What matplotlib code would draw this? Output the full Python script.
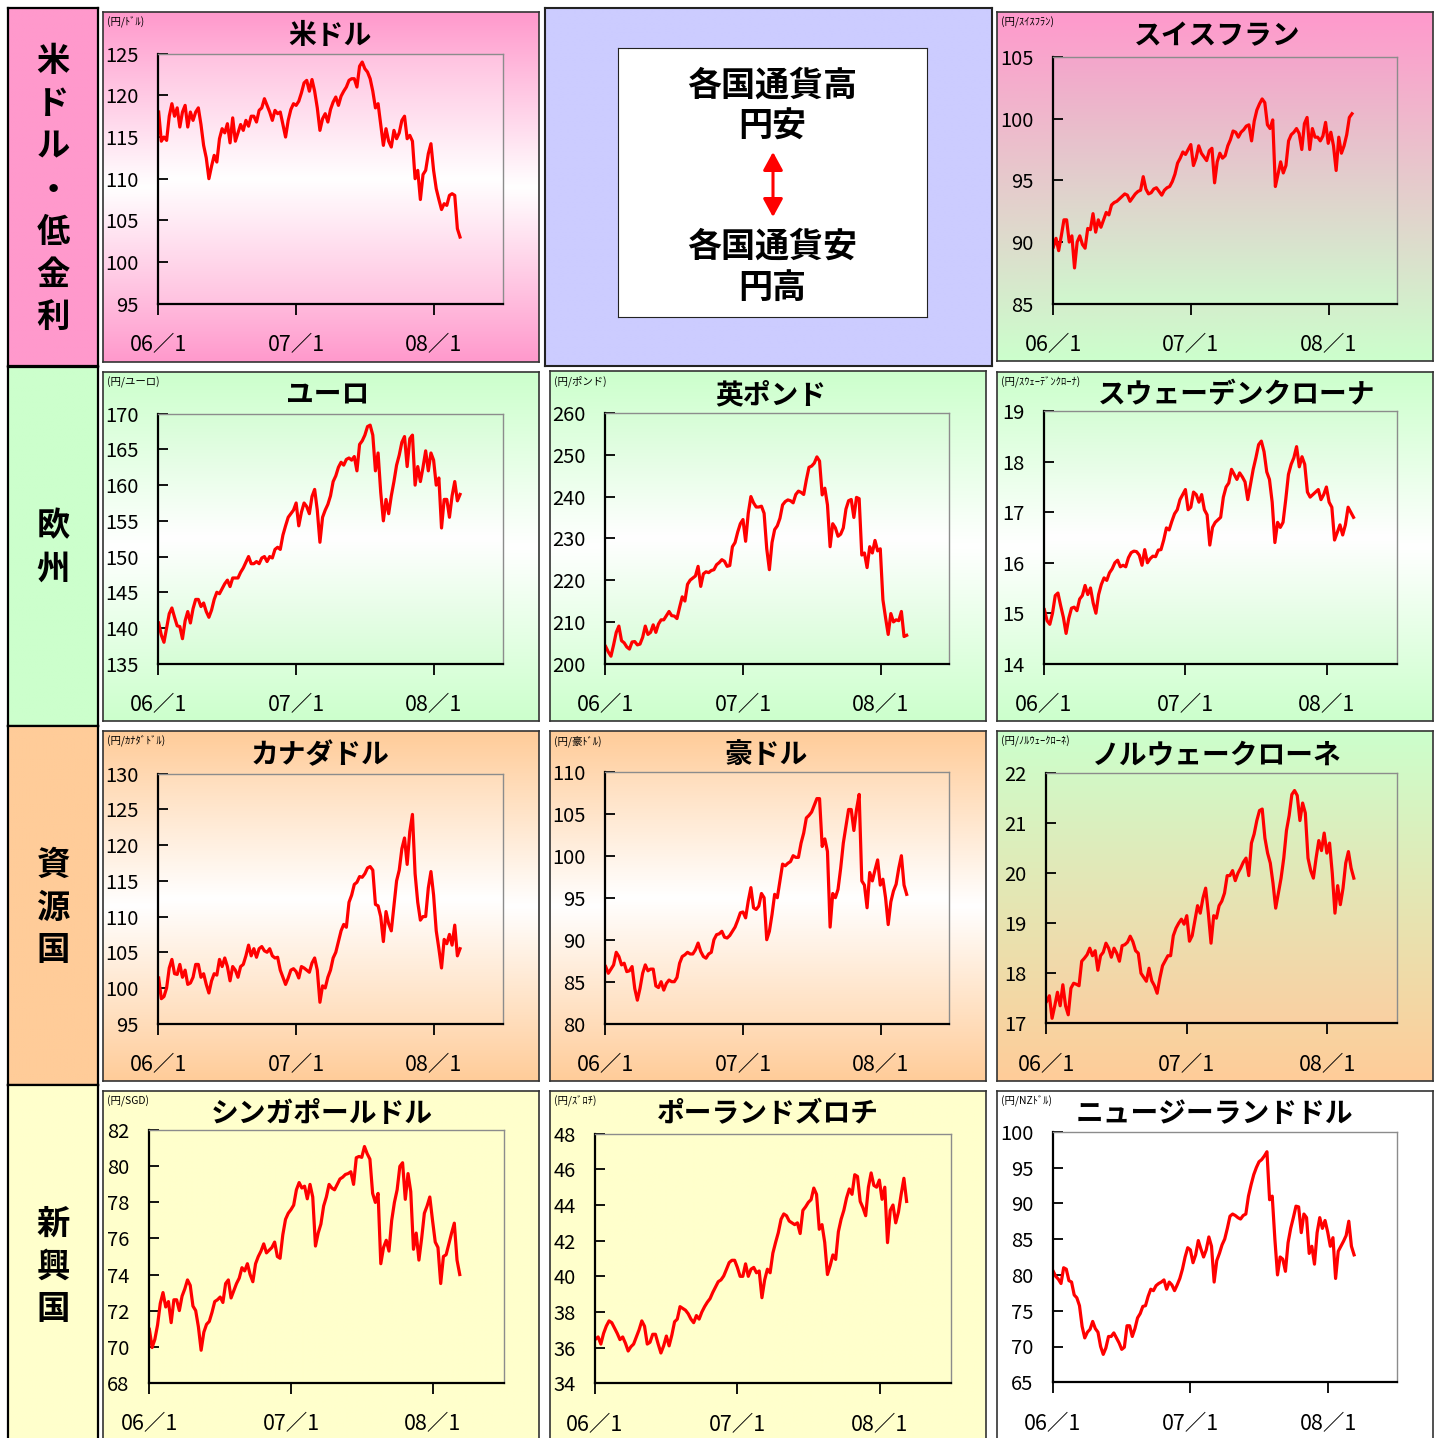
import numpy as np
import pandas as pd
import matplotlib
matplotlib.use("Agg")
import matplotlib.pyplot as plt
from matplotlib.colors import to_rgb
from matplotlib.patches import FancyArrowPatch

plt.rcParams['font.family'] = ['Noto Sans CJK JP', 'DejaVu Sans']

# ---------------------------------------------------------------------------
# Weekly yen rates per unit of each currency, Jan 2006 - Mar 2008
# ---------------------------------------------------------------------------
week_dates = pd.date_range('2006-01-02', periods=115, freq='7D').values

usd = [118.0, 114.5, 115.0, 114.6, 117.5, 119.0, 117.5, 118.5, 116.2, 118.0,
       118.8, 116.2, 118.0, 117.0, 118.0, 118.5, 116.5, 114.0, 112.5, 110.0,
       111.5, 112.8, 112.0, 114.8, 116.0, 115.5, 116.6, 114.3, 117.3, 114.5,
       115.5, 116.5, 115.8, 117.0, 116.3, 117.5, 117.5, 116.8, 118.2, 118.5,
       119.6, 118.8, 118.0, 117.0, 118.2, 117.8, 118.0, 116.5, 115.0, 117.0,
       118.3, 119.0, 118.8, 119.3, 120.3, 121.5, 121.8, 120.5, 121.9, 120.5,
       118.5, 115.8, 117.2, 117.8, 116.8, 118.3, 119.2, 119.8, 118.8, 119.9,
       120.5, 121.0, 121.8, 122.0, 122.0, 121.0, 123.5, 124.0, 123.2, 122.8,
       122.0, 120.5, 118.5, 119.0, 116.5, 114.0, 116.0, 114.5, 113.8, 115.8,
       114.8, 115.5, 117.0, 117.5, 114.8, 115.2, 114.5, 110.0, 111.0, 107.5,
       110.5, 111.0, 113.0, 114.2, 111.0, 108.8, 107.5, 106.3, 107.0, 106.8,
       108.0, 108.2, 108.0, 104.0, 103.0]

chf = [89.6, 90.3, 89.3, 90.5, 91.8, 91.8, 90.0, 90.5, 87.9, 90.0,
       90.5, 89.8, 89.5, 91.1, 91.0, 92.3, 90.8, 91.8, 91.2, 91.8,
       92.4, 92.2, 93.0, 93.2, 93.3, 93.5, 93.7, 93.9, 93.8, 93.3,
       93.6, 93.9, 94.1, 94.2, 95.3, 94.3, 93.9, 94.0, 94.3, 94.4,
       94.1, 93.8, 94.2, 94.4, 94.5, 94.9, 95.5, 96.4, 96.8, 97.3,
       97.1, 97.5, 97.9, 96.2, 96.8, 97.8, 97.2, 96.9, 96.6, 97.4,
       97.6, 94.8, 96.5, 97.2, 96.8, 97.0, 97.8, 98.3, 99.0, 98.9,
       98.5, 98.9, 99.1, 99.4, 99.5, 98.2, 99.8, 100.7, 101.2, 101.6,
       101.3, 99.5, 99.2, 99.9, 94.5, 95.5, 96.5, 95.6, 96.2, 98.2,
       98.7, 98.9, 99.2, 98.8, 97.5, 99.6, 100.1, 97.5, 99.2, 98.5,
       98.5, 98.2, 98.6, 99.7, 98.0, 98.9, 97.8, 95.8, 98.5, 97.2,
       97.8, 98.7, 100.1, 100.4]

eur = [140.7, 139.0, 138.0, 140.0, 142.0, 142.8, 141.5, 140.3, 140.2, 138.5,
       141.0, 142.3, 140.7, 142.7, 144.0, 144.0, 143.0, 143.5, 142.3, 141.5,
       142.5, 144.0, 145.0, 144.8, 145.5, 146.2, 146.7, 145.8, 147.0, 147.0,
       147.0, 147.8, 148.4, 149.2, 150.0, 149.0, 149.0, 149.3, 149.0, 149.8,
       150.0, 149.3, 150.0, 149.8, 151.0, 151.3, 151.0, 153.0, 154.3, 155.5,
       156.0, 156.5, 157.5, 154.3, 156.2, 157.5, 157.0, 156.0, 158.4, 159.4,
       156.5, 152.0, 155.5, 156.5, 157.3, 158.5, 160.5, 161.3, 162.5, 163.2,
       162.8, 163.6, 163.8, 163.5, 164.0, 162.0, 165.7, 166.2, 167.0, 168.2,
       168.4, 167.0, 162.0, 164.5, 159.0, 155.0, 158.0, 156.0, 158.5, 160.5,
       162.8, 164.2, 166.0, 166.8, 162.6, 166.5, 167.0, 160.0, 162.6, 160.5,
       162.5, 164.8, 162.0, 164.5, 163.5, 160.0, 161.0, 154.0, 158.0, 158.0,
       155.5, 158.5, 160.5, 157.8, 158.7]

gbp = [204.1, 202.8, 201.8, 204.5, 207.5, 209.0, 205.5, 205.0, 204.0, 203.5,
       205.2, 205.3, 204.5, 204.7, 206.3, 209.0, 207.0, 207.5, 209.3, 207.5,
       209.5, 210.5, 210.5, 211.5, 212.5, 211.5, 211.4, 210.8, 213.5, 216.0,
       215.0, 219.0, 220.0, 220.5, 221.0, 223.3, 218.5, 221.5, 222.0, 221.8,
       222.3, 222.5, 223.7, 224.2, 224.9, 224.5, 223.3, 223.5, 228.0, 229.0,
       231.5, 233.5, 234.5, 229.3, 236.0, 240.0, 238.5, 237.5, 237.5, 237.7,
       236.0, 227.5, 222.5, 229.0, 232.1, 233.0, 234.8, 238.0, 238.8, 239.2,
       239.0, 238.5, 240.5, 241.3, 241.0, 240.5, 244.0, 247.0, 247.3, 248.0,
       249.5, 248.5, 240.4, 242.0, 238.0, 228.0, 233.5, 232.5, 230.5, 231.0,
       232.5, 237.0, 239.0, 239.3, 235.0, 239.8, 239.5, 226.0, 226.5, 223.0,
       228.0, 226.5, 229.5, 227.0, 227.5, 215.3, 211.0, 207.0, 212.0, 210.0,
       210.5, 210.3, 212.5, 206.5, 206.8]

sek = [15.07, 14.85, 14.78, 15.00, 15.35, 15.40, 15.15, 14.92, 14.60, 14.90,
       15.10, 15.12, 15.05, 15.28, 15.35, 15.55, 15.37, 15.50, 15.20, 15.00,
       15.37, 15.57, 15.70, 15.65, 15.80, 15.88, 16.00, 16.05, 15.92, 15.95,
       15.92, 16.10, 16.20, 16.23, 16.22, 16.15, 15.95, 16.26, 16.00, 16.08,
       16.13, 16.12, 16.25, 16.26, 16.45, 16.69, 16.65, 16.82, 16.97, 17.05,
       17.25, 17.35, 17.45, 17.05, 17.10, 17.40, 17.35, 17.20, 17.35, 17.05,
       16.95, 16.35, 16.70, 16.80, 16.85, 16.90, 17.30, 17.50, 17.58, 17.85,
       17.75, 17.65, 17.78, 17.70, 17.60, 17.25, 17.55, 17.85, 18.08, 18.34,
       18.41, 18.20, 17.80, 17.65, 17.20, 16.40, 16.80, 16.70, 16.80, 17.25,
       17.75, 17.95, 18.08, 18.30, 17.90, 18.10, 17.95, 17.40, 17.30, 17.35,
       17.40, 17.45, 17.25, 17.35, 17.50, 17.20, 17.10, 16.45, 16.60, 16.75,
       16.55, 16.75, 17.10, 17.00, 16.90]

cad = [101.4, 98.5, 98.8, 100.0, 102.8, 104.0, 102.0, 101.9, 103.3, 101.5,
       102.5, 100.5, 100.7, 101.5, 103.3, 103.3, 101.5, 102.0, 100.5, 99.3,
       101.0, 102.0, 101.8, 104.0, 103.0, 104.2, 103.0, 101.0, 103.0, 102.5,
       101.5, 103.0, 103.3, 104.5, 106.0, 104.5, 105.5, 104.3, 105.5, 105.8,
       105.2, 105.0, 105.5, 104.5, 104.2, 104.3, 102.5, 101.5, 100.5, 101.4,
       102.5, 102.7, 102.3, 101.4, 103.0, 102.8, 102.5, 102.2, 103.5, 104.2,
       102.5, 98.0, 100.3, 100.0, 101.5, 102.5, 104.2, 105.0, 106.5, 108.0,
       108.9, 108.5, 112.0, 113.0, 114.5, 114.8, 115.6, 115.5, 116.0, 116.8,
       117.0, 116.5, 111.7, 111.5, 110.0, 106.5, 110.7, 109.0, 108.0, 111.5,
       115.0, 116.5, 119.5, 121.0, 117.3, 121.9, 124.3, 116.0, 112.0, 109.5,
       110.0, 110.0, 114.0, 116.3, 113.0, 108.0, 105.5, 102.8, 106.8, 106.2,
       107.5, 106.0, 108.8, 104.5, 105.5]

aud = [86.8, 86.0, 86.5, 87.0, 88.5, 88.0, 87.0, 87.2, 86.2, 86.3,
       86.8, 84.2, 82.8, 84.2, 86.0, 87.0, 86.3, 86.5, 86.5, 84.5,
       84.3, 85.0, 84.0, 84.8, 85.2, 85.0, 85.0, 85.5, 87.2, 88.0,
       88.2, 88.5, 88.3, 88.3, 88.8, 89.6, 88.6, 88.0, 87.8, 88.3,
       88.5, 90.0, 90.6, 90.7, 91.0, 90.3, 90.2, 90.5, 91.0, 91.5,
       92.3, 93.2, 93.3, 92.6, 94.6, 96.2, 93.8, 93.6, 94.0, 95.5,
       95.0, 90.0, 91.0, 93.0, 95.4, 95.0, 97.0, 99.0, 98.8, 99.1,
       99.3, 100.0, 99.8, 99.8, 101.5, 102.7, 104.5, 104.8, 105.2, 106.0,
       106.8, 106.8, 101.1, 102.0, 100.5, 91.5, 95.5, 95.0, 96.0, 98.5,
       101.5, 103.5, 105.5, 105.5, 103.0, 105.5, 107.3, 97.0, 96.5, 93.8,
       98.0, 97.0, 98.3, 99.5, 96.5, 97.2, 95.0, 91.8, 94.5, 95.8,
       96.6, 98.5, 100.0, 96.5, 95.4]

nok = [17.44, 17.55, 17.10, 17.35, 17.62, 17.35, 17.77, 17.35, 17.17, 17.70,
       17.80, 17.78, 17.75, 18.24, 18.30, 18.37, 18.50, 18.35, 18.45, 18.06,
       18.35, 18.42, 18.60, 18.50, 18.32, 18.50, 18.40, 18.24, 18.55, 18.57,
       18.62, 18.74, 18.63, 18.45, 18.40, 18.00, 17.92, 17.84, 18.10, 17.85,
       17.75, 17.60, 17.90, 18.15, 18.25, 18.35, 18.35, 18.75, 18.90, 19.00,
       19.08, 18.98, 19.15, 18.64, 18.75, 19.05, 19.35, 19.20, 19.50, 19.70,
       19.20, 18.60, 19.15, 19.10, 19.35, 19.44, 19.60, 19.95, 19.95, 20.05,
       19.85, 20.00, 20.10, 20.22, 20.30, 19.95, 20.60, 20.78, 21.05, 21.25,
       21.28, 20.70, 20.40, 20.20, 19.80, 19.30, 19.60, 19.90, 20.30, 20.85,
       21.15, 21.57, 21.65, 21.55, 21.05, 21.40, 21.20, 20.30, 20.05, 19.90,
       20.30, 20.65, 20.45, 20.80, 20.40, 20.60, 20.00, 19.20, 19.75, 19.37,
       19.70, 20.20, 20.43, 20.10, 19.90]

sgd = [70.96, 69.95, 70.40, 71.20, 72.40, 73.00, 72.20, 72.50, 71.33, 72.60,
       72.60, 72.00, 72.80, 73.20, 73.70, 73.40, 72.25, 72.00, 71.10, 69.80,
       70.80, 71.24, 71.40, 71.90, 72.50, 72.60, 72.75, 72.45, 73.50, 73.70,
       72.70, 73.10, 73.50, 73.80, 74.38, 74.20, 74.60, 74.00, 73.60, 74.60,
       75.00, 75.30, 75.70, 75.20, 75.35, 75.50, 75.80, 75.00, 74.90, 76.20,
       77.06, 77.40, 77.60, 77.85, 78.70, 79.10, 78.80, 78.90, 78.20, 79.00,
       78.30, 75.58, 76.30, 76.80, 77.80, 78.30, 79.00, 78.80, 78.70, 79.00,
       79.30, 79.40, 79.55, 79.60, 79.70, 79.00, 80.48, 80.55, 80.50, 81.10,
       80.70, 80.40, 78.50, 78.00, 78.50, 74.60, 75.50, 75.90, 75.30, 77.00,
       78.00, 78.70, 80.00, 80.20, 78.17, 79.60, 78.60, 75.40, 76.30, 74.80,
       76.00, 77.40, 77.80, 78.30, 77.00, 75.80, 75.50, 73.50, 75.00, 75.10,
       75.70, 76.30, 76.85, 74.80, 74.00]

pln = [36.47, 36.60, 36.20, 36.80, 37.21, 37.50, 37.40, 37.10, 36.80, 36.45,
       36.60, 36.25, 35.81, 36.05, 36.20, 36.60, 37.00, 37.50, 37.20, 36.20,
       36.30, 36.75, 36.75, 36.20, 35.70, 36.10, 36.65, 36.10, 36.70, 37.45,
       37.60, 38.30, 38.20, 38.10, 37.90, 37.60, 37.40, 37.80, 37.60, 38.00,
       38.30, 38.55, 38.75, 39.10, 39.40, 39.70, 39.80, 40.02, 40.39, 40.77,
       40.90, 40.90, 40.50, 40.00, 40.00, 40.70, 40.00, 40.40, 40.50, 40.20,
       40.30, 38.80, 39.80, 40.40, 40.20, 41.30, 41.90, 42.45, 43.20, 43.50,
       43.40, 43.10, 43.00, 42.90, 43.00, 42.40, 43.70, 43.90, 44.15, 44.30,
       44.95, 44.60, 42.64, 42.90, 41.90, 40.10, 40.60, 41.20, 40.95, 42.50,
       43.20, 43.70, 44.40, 44.90, 44.60, 45.70, 45.60, 44.20, 43.85, 43.40,
       45.00, 45.80, 45.10, 45.00, 45.40, 44.32, 45.00, 41.89, 43.70, 44.00,
       43.00, 43.60, 44.60, 45.50, 44.20]

nzd = [80.55, 79.8, 79.4, 78.8, 81.0, 80.8, 79.2, 79.0, 77.2, 76.8,
       75.7, 72.8, 71.2, 72.0, 72.4, 73.5, 72.5, 72.0, 70.0, 68.9,
       69.8, 71.4, 71.4, 71.9, 71.2, 70.5, 69.6, 69.9, 72.9, 72.9,
       71.4, 72.5, 74.0, 74.6, 75.6, 75.7, 77.0, 78.0, 77.8, 78.5,
       78.8, 79.0, 79.3, 78.0, 79.0, 78.6, 77.8, 78.6, 79.5, 80.8,
       82.5, 83.8, 83.5, 81.7, 82.8, 84.8, 83.6, 82.5, 83.5, 85.3,
       84.0, 79.0, 82.0, 83.0, 84.2, 85.0, 86.5, 88.2, 88.5, 88.3,
       88.0, 87.8, 88.3, 88.5, 91.0, 92.6, 94.0, 95.0, 95.8, 96.1,
       96.6, 97.2, 90.5, 91.0, 85.0, 80.0, 82.5, 82.2, 80.5, 84.5,
       86.5, 88.0, 89.6, 89.5, 85.9, 88.5, 88.0, 83.0, 84.0, 81.5,
       85.9, 88.0, 86.5, 87.6, 86.0, 84.0, 85.2, 79.5, 83.3, 84.0,
       84.7, 85.5, 87.5, 84.0, 82.8]

# axis ticks for each currency
usd_ticks = [95, 100, 105, 110, 115, 120, 125]
chf_ticks = [85, 90, 95, 100, 105]
eur_ticks = [135, 140, 145, 150, 155, 160, 165, 170]
gbp_ticks = [200, 210, 220, 230, 240, 250, 260]
sek_ticks = [14, 15, 16, 17, 18, 19]
cad_ticks = [95, 100, 105, 110, 115, 120, 125, 130]
aud_ticks = [80, 85, 90, 95, 100, 105, 110]
nok_ticks = [17, 18, 19, 20, 21, 22]
sgd_ticks = [68, 70, 72, 74, 76, 78, 80, 82]
pln_ticks = [34, 36, 38, 40, 42, 44, 46, 48]
nzd_ticks = [65, 70, 75, 80, 85, 90, 95, 100]

x_tick_dates = ['2006-01-01', '2007-01-01', '2008-01-01']
x_tick_labels = ['06／1', '07／1', '08／1']

row_labels = ['米ドル・低金利', '欧州', '資源国', '新興国']
legend_lines = ['各国通貨高', '円安', '各国通貨安', '円高']

# ---------------------------------------------------------------------------
# Figure and helpers (all layout given in pixels from the top-left corner)
# ---------------------------------------------------------------------------
W, H = 1440, 1438
fig = plt.figure(figsize=(W / 100, H / 100), dpi=100)
fig.patch.set_facecolor('white')

PINK, GREEN, PEACH, YELLOW = '#FF99CC', '#CCFFCC', '#FFCC99', '#FFFFCC'
LAVENDER, WHITE = '#CCCCFF', '#FFFFFF'


def frac(x0, y0, x1, y1):
    return [x0 / W, 1 - y1 / H, (x1 - x0) / W, (y1 - y0) / H]


def vertical_gradient(stops, n=256):
    t = np.linspace(0, 1, n)
    pos = [p for p, _ in stops]
    cols = np.array([to_rgb(c) for _, c in stops])
    img = np.stack([np.interp(t, pos, cols[:, i]) for i in range(3)], axis=-1)
    return img[:, None, :]


def filled_box(box, stops, zorder, edge='#222222', lw=1.2):
    ax = fig.add_axes(frac(*box), zorder=zorder)
    ax.imshow(vertical_gradient(stops), aspect='auto', extent=(0, 1, 0, 1),
              interpolation='bilinear')
    ax.set_xlim(0, 1)
    ax.set_ylim(0, 1)
    ax.set_xticks([])
    ax.set_yticks([])
    for s in ax.spines.values():
        if lw > 0:
            s.set_edgecolor(edge)
            s.set_linewidth(lw)
        else:
            s.set_visible(False)
    return ax


def fig_text(x, y, s, **kw):
    fig.text(x / W, 1 - y / H, s, **kw)


# ---------------------------------------------------------------------------
# Row captions on the left
# ---------------------------------------------------------------------------
row_boxes = [(8, 8, 98, 366), (8, 367, 98, 726), (8, 726, 98, 1085), (8, 1085, 98, 1446)]
row_colors = [PINK, GREEN, PEACH, YELLOW]
row_centers = [190, 548, 908, 1267]
for label, box, col, cy in zip(row_labels, row_boxes, row_colors, row_centers):
    filled_box(box, [(0, col), (1, col)], zorder=0, edge='#000000', lw=1.6)
    step = 42.7
    y0 = cy - step * (len(label) - 1) / 2
    for i, ch in enumerate(label):
        fig_text(53, y0 + i * step, ch, ha='center', va='center',
                 fontsize=24, fontweight='bold')

# ---------------------------------------------------------------------------
# Explanation panel (top centre)
# ---------------------------------------------------------------------------
filled_box((545, 8, 992, 366), [(0, LAVENDER), (1, LAVENDER)], zorder=0,
           edge='#222222', lw=1.5)
filled_box((618, 48, 927, 317), [(0, WHITE), (1, WHITE)], zorder=1,
           edge='#222222', lw=0.8)
for txt, y in zip(legend_lines, [85, 126, 246, 287]):
    fig_text(772, y, txt, ha='center', va='center', fontsize=24.5,
             fontweight='bold', zorder=5)
arrow = FancyArrowPatch((773 / W, 1 - 217 / H), (773 / W, 1 - 152 / H),
                        transform=fig.transFigure,
                        arrowstyle='<|-|>,head_length=0.55,head_width=0.3',
                        mutation_scale=20, color='#FF0000', lw=2.2,
                        shrinkA=0, shrinkB=0, zorder=5)
fig.add_artist(arrow)

# ---------------------------------------------------------------------------
# Currency panels
# ---------------------------------------------------------------------------
pw_pink = [(0, PINK), (0.5, WHITE), (1, PINK)]
pw_pink_in = [(0, '#FFC2E0'), (0.5, WHITE), (1, '#FFC2E0')]
pw_green = [(0, GREEN), (0.5, WHITE), (1, GREEN)]
pw_green_in = [(0, '#D6FDD6'), (0.5, WHITE), (1, '#D6FDD6')]
pw_peach = [(0, PEACH), (0.5, WHITE), (1, PEACH)]
pw_peach_in = [(0, '#FFDDBB'), (0.5, WHITE), (1, '#FFDDBB')]
pink_green = [(0, PINK), (1, GREEN)]
pink_green_in = [(0, '#F4A6CB'), (1, '#D0F7CE')]
green_peach = [(0, GREEN), (1, PEACH)]
green_peach_in = [(0, '#D2F8C6'), (1, '#FAD0A2')]
plain_yellow = [(0, YELLOW), (1, YELLOW)]
plain_white = [(0, WHITE), (1, WHITE)]

panels = [
    dict(title='米ドル', unit='(円/ﾄﾞﾙ)', values=usd, ticks=usd_ticks,
         panel=(103, 12, 539, 362), plot=(158.3, 53.7, 502.7, 303.7),
         title_xy=(330, 36), bg=pw_pink, bg_in=pw_pink_in),
    dict(title='スイスフラン', unit='(円/ｽｲｽﾌﾗﾝ)', values=chf, ticks=chf_ticks,
         panel=(997, 12, 1433, 361), plot=(1053, 57, 1397.3, 303.7),
         title_xy=(1217, 36), bg=pink_green, bg_in=pink_green_in),
    dict(title='ユーロ', unit='(円/ユーロ)', values=eur, ticks=eur_ticks,
         panel=(103, 372, 539, 721), plot=(158.3, 413.7, 502.7, 663.7),
         title_xy=(328, 395), bg=pw_green, bg_in=pw_green_in),
    dict(title='英ポンド', unit='(円/ポンド)', values=gbp, ticks=gbp_ticks,
         panel=(550, 371, 986, 721), plot=(605.3, 413, 949.3, 663.7),
         title_xy=(771, 395), bg=pw_green, bg_in=pw_green_in),
    dict(title='スウェーデンクローナ', unit='(円/ｽｳｪｰﾃﾞﾝｸﾛｰﾅ)', values=sek,
         ticks=sek_ticks, panel=(997, 372, 1433, 721),
         plot=(1044, 411.3, 1397.3, 663.7), title_xy=(1237, 395),
         bg=pw_green, bg_in=pw_green_in),
    dict(title='カナダドル', unit='(円/ｶﾅﾀﾞﾄﾞﾙ)', values=cad, ticks=cad_ticks,
         panel=(103, 731, 539, 1081), plot=(158.3, 773.7, 502.7, 1023.7),
         title_xy=(320, 755), bg=pw_peach, bg_in=pw_peach_in),
    dict(title='豪ドル', unit='(円/豪ﾄﾞﾙ)', values=aud, ticks=aud_ticks,
         panel=(550, 731, 986, 1081), plot=(605.3, 771.7, 949.3, 1023.7),
         title_xy=(766, 755), bg=pw_peach, bg_in=pw_peach_in),
    dict(title='ノルウェークローネ', unit='(円/ﾉﾙｳｪｰｸﾛｰﾈ)', values=nok,
         ticks=nok_ticks, panel=(997, 731, 1433, 1081),
         plot=(1046.3, 773, 1397.3, 1023.3), title_xy=(1217, 755),
         bg=green_peach, bg_in=green_peach_in),
    dict(title='シンガポールドル', unit='(円/SGD)', values=sgd, ticks=sgd_ticks,
         panel=(103, 1091, 539, 1446), plot=(149, 1130.3, 503.7, 1382.7),
         title_xy=(322, 1114), bg=plain_yellow, bg_in=plain_yellow),
    dict(title='ポーランドズロチ', unit='(円/ｽﾞﾛﾁ)', values=pln, ticks=pln_ticks,
         panel=(550, 1091, 986, 1446), plot=(595, 1133.7, 950.7, 1383.3),
         title_xy=(768, 1114), bg=plain_yellow, bg_in=plain_yellow),
    dict(title='ニュージーランドドル', unit='(円/NZﾄﾞﾙ)', values=nzd,
         ticks=nzd_ticks, panel=(997, 1091, 1433, 1446),
         plot=(1052.7, 1131.7, 1396.7, 1382.3), title_xy=(1214, 1114),
         bg=plain_white, bg_in=plain_white),
]

x_left = np.datetime64('2006-01-01')
x_right = np.datetime64('2008-07-01')
x_ticks = [np.datetime64(d) for d in x_tick_dates]

for p in panels:
    filled_box(p['panel'], p['bg'], zorder=0, edge='#333333', lw=1.2)
    filled_box(p['plot'], p['bg_in'], zorder=1, lw=0)

    ax = fig.add_axes(frac(*p['plot']), zorder=2)
    ax.patch.set_visible(False)
    vals = p['values']
    ax.plot(week_dates[:len(vals)], vals, color='#FF0000', lw=2.3,
            solid_joinstyle='round')
    ax.set_xlim(x_left, x_right)
    ax.set_ylim(p['ticks'][0], p['ticks'][-1])
    ax.set_yticks(p['ticks'])
    ax.set_yticklabels([str(t) for t in p['ticks']])
    ax.set_xticks(x_ticks)
    ax.set_xticklabels(x_tick_labels)
    ax.tick_params(axis='y', direction='in', length=7, width=1.3, pad=14,
                   labelsize=14.5, color='#000000')
    ax.tick_params(axis='x', direction='out', length=8, width=1.3, pad=14,
                   labelsize=15.5, color='#000000')
    for side in ('left', 'bottom'):
        ax.spines[side].set_color('#000000')
        ax.spines[side].set_linewidth(1.6)
    for side in ('top', 'right'):
        ax.spines[side].set_color('#8C8C8C')
        ax.spines[side].set_linewidth(1.0)

    tx, ty = p['title_xy']
    fig_text(tx, ty, p['title'], ha='center', va='center', fontsize=20,
             fontweight='bold')
    fig_text(p['panel'][0] + 4, p['panel'][1] + 10, p['unit'], ha='left',
             va='center', fontsize=7.5)

fig.savefig('out.png', dpi=100)
